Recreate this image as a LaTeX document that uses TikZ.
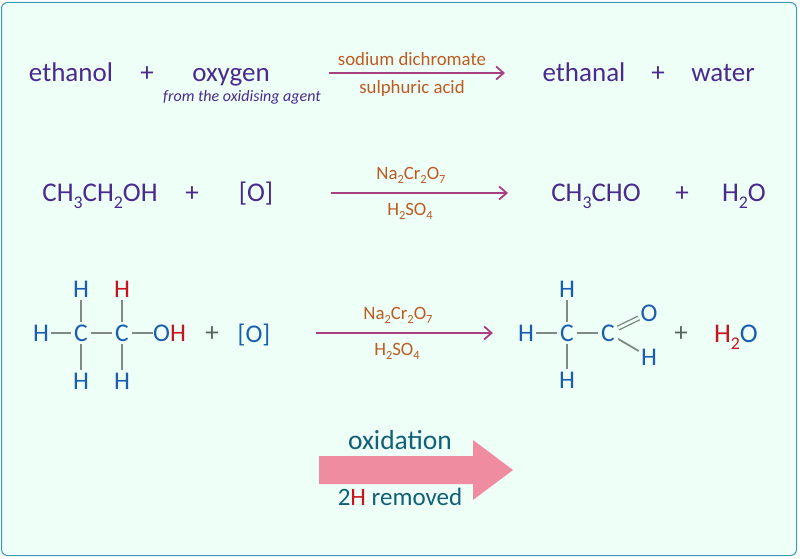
\documentclass[tikz,border=0pt]{standalone}
\usepackage{fontspec}
\setmainfont{Carlito}
\usepackage{xcolor}
\usepackage{graphicx}
\usetikzlibrary{arrows.meta}
\definecolor{panelfill}{HTML}{EDFFF7}
\definecolor{paneledge}{HTML}{3C9BB5}
\definecolor{wordpurple}{HTML}{4A2A8E}
\definecolor{atomblue}{HTML}{1A5DB0}
\definecolor{atomred}{HTML}{C8141E}
\definecolor{agentbrown}{HTML}{BE5A22}
\definecolor{arrowpink}{HTML}{A84080}
\definecolor{bondgrey}{HTML}{7F8A82}
\definecolor{plusgrey}{HTML}{56685E}
\definecolor{bigpink}{HTML}{F08CA0}
\definecolor{noteteal}{HTML}{125F7A}
\newcommand{\lo}[1]{\raisebox{-0.26em}{\scalebox{0.66}{#1}}}
\tikzstyle{word} = [inner sep=0pt, anchor=base, text=wordpurple, font=\fontsize{27}{30}\selectfont]
\tikzstyle{agent} = [inner sep=0pt, anchor=base, text=agentbrown, font=\fontsize{18.8}{22}\selectfont]
\tikzstyle{atom} = [rectangle, inner sep=0pt, minimum width=20pt, minimum height=22pt, text=atomblue, font=\fontsize{25.5}{28}\selectfont]
\tikzstyle{plus} = [word, text=plusgrey]
\tikzstyle{note} = [inner sep=0pt, anchor=base, text=noteteal, font=\fontsize{25}{28}\selectfont]
\tikzstyle{bond} = [draw=bondgrey, line width=1.8pt]
\tikzstyle{arrow} = [draw=arrowpink, line width=1.8pt, -{Straight Barb[length=7.5pt,width=13pt]}]
\begin{document}
\begin{tikzpicture}[x=1pt, y=-1pt]
    \useasboundingbox (0,0) rectangle (800,559);
    \draw[paneledge, fill=panelfill, line width=1pt, rounded corners=6pt] (1.5,2.5) rectangle (796.5,555.5);
    % word equation
    \node (eth) [word] at (71,82) {ethanol};
    \node (plus1) [word] at (147,82) {+};
    \node (oxy) [word] at (231,82) {oxygen};
    \node (from) [word, font=\fontsize{16}{20}\selectfont\itshape] at (242,102) {from the oxidising agent};
    \node (ethal) [word] at (584,82) {ethanal};
    \node (plus2) [word] at (658,82) {+};
    \node (wat) [word] at (723,82) {water};
    \coordinate (a1s) at (329,73);
    \coordinate (a1e) at (505,73);
    \draw[arrow] (a1s)--(a1e);
    \node (sod) [agent] at (412,66) {sodium dichromate};
    \node (sul) [agent] at (412,94) {sulphuric acid};
    % condensed formulae
    \node (cond1) [word] at (100,201) {CH\lo{3}CH\lo{2}OH};
    \node (plus3) [word] at (192,201) {+};
    \node (oa) [word] at (256,201) {[O]};
    \node (cond2) [word] at (596,201) {CH\lo{3}CHO};
    \node (plus4) [word] at (682,201) {+};
    \node (wa) [word] at (744,201) {H\lo{2}O};
    \coordinate (a2s) at (331,193);
    \coordinate (a2e) at (508,193);
    \draw[arrow] (a2s)--(a2e);
    \node (na2) [agent] at (411,179) {Na\lo{2}Cr\lo{2}O\lo{7}};
    \node (hs2) [agent] at (410,215) {H\lo{2}SO\lo{4}};
    % structural formulae
    \node (c1) [atom] at (81,333) {C};
    \node (c2) [atom] at (122,333) {C};
    \node (hl) [atom] at (41,333) {H};
    \node (ht1) [atom] at (81,289) {H};
    \node (hb1) [atom] at (81,381) {H};
    \node (ht2) [atom, text=atomred] at (122,289) {H};
    \node (hb2) [atom] at (122,381) {H};
    \node (oh) [atom, anchor=west] at (153,333) {O\textcolor{atomred}{H}};
    \draw[bond] (hl)--(c1);
    \draw[bond] (c1)--(c2);
    \draw[bond] (c2)--(oh);
    \draw[bond] (c1)--(ht1);
    \draw[bond] (c1)--(hb1);
    \draw[bond] (c2)--(ht2);
    \draw[bond] (c2)--(hb2);
    \node (plus5) [plus] at (212,341) {+};
    \node (ob) [word, text=atomblue, font=\fontsize{25.5}{28}\selectfont] at (254,342) {[O]};
    \coordinate (a3s) at (316,333);
    \coordinate (a3e) at (493,333);
    \draw[arrow] (a3s)--(a3e);
    \node (na3) [agent] at (398,319) {Na\lo{2}Cr\lo{2}O\lo{7}};
    \node (hs3) [agent] at (397,355) {H\lo{2}SO\lo{4}};
    \node (c3) [atom] at (567,333) {C};
    \node (c4) [atom] at (608,333) {C};
    \node (hr) [atom] at (526,333) {H};
    \node (ht3) [atom] at (567,289) {H};
    \node (hb3) [atom] at (567,380) {H};
    \node (ox) [atom] at (649,313) {O};
    \node (ha) [atom] at (649,357) {H};
    \draw[bond] (hr)--(c3);
    \draw[bond] (c3)--(c4);
    \draw[bond] (c3)--(ht3);
    \draw[bond] (c3)--(hb3);
    \draw[bond, double=panelfill, double distance=2.6pt, line width=1.4pt] (c4)--(ox);
    \draw[bond] (c4)--(ha);
    \node (plus6) [plus] at (681,341) {+};
    \node (wb) [word, text=atomblue] at (736,342) {\textcolor{atomred}{H\lo{2}}O};
    % big arrow
    \fill[bigpink] (319,456) -- (473,456) -- (473,440) -- (513,470) -- (473,500) -- (473,484) -- (319,484) -- cycle;
    \node (oxn) [note, font=\fontsize{27.5}{30}\selectfont] at (400,449) {oxidation};
    \node (rem) [note] at (400,505) {2\textcolor{atomred}{H} removed};
\end{tikzpicture}
\end{document}
